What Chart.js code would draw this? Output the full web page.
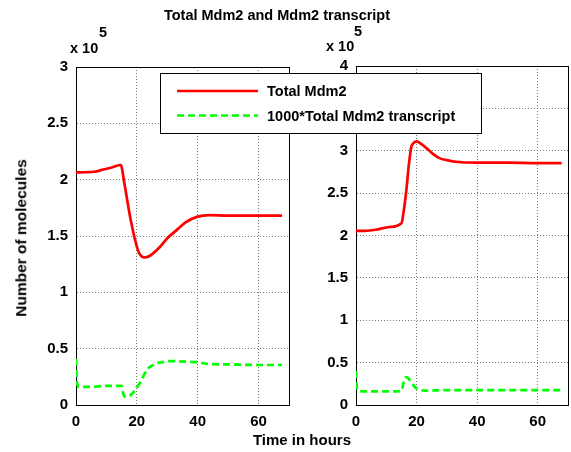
<!DOCTYPE html>
<html>
<head>
<meta charset="utf-8">
<script src="https://cdn.jsdelivr.net/npm/chart.js@4.4.1/dist/chart.umd.min.js"></script>
<style>
	body { margin: 0; background: #fff; }
	#wrap { position: relative; width: 571px; height: 452px; font-family: "Liberation Sans", Arial, sans-serif; font-weight: bold; color: #000; }
	canvas { position: absolute; left: 0; top: 0; }
	.txt { position: absolute; white-space: nowrap; font-size: 14.5px; line-height: 1; }
</style>
</head>
<body>
<div id="wrap">
	<canvas id="left" width="571" height="452"></canvas>
	<canvas id="right" width="571" height="452"></canvas>
	<div class="txt" style="left:0;width:554px;top:8px;text-align:center;">Total Mdm2 and Mdm2 transcript</div>
	<div class="txt" style="left:70px;top:41px;">x 10</div>
	<div class="txt" style="left:99px;top:25px;">5</div>
	<div class="txt" style="left:326px;top:39px;">x 10</div>
	<div class="txt" style="left:354px;top:24px;">5</div>
	<div class="txt" style="left:0;width:604px;top:432px;text-align:center;font-size:15px;">Time in hours</div>
	<div class="txt" style="left:21px;top:238px;font-size:15.5px;transform:translate(-50%,-50%) rotate(-90deg);">Number of molecules</div>
</div>
<script>
// values in units of 10^5 molecules, time in hours
var leftMdm2T = [0, 3, 6, 9, 12, 14.7, 16, 18, 20.4, 21.5, 22.6, 24, 25.5, 27.5, 30, 33, 36, 39.7, 44, 50, 60, 67.7];
var leftMdm2 = [2.065, 2.066, 2.07, 2.09, 2.11, 2.13, 1.95, 1.64, 1.37, 1.32, 1.31, 1.32, 1.35, 1.40, 1.48, 1.55, 1.62, 1.67, 1.685, 1.68, 1.68, 1.68];
var leftTrT = [0, 0.3, 1, 5, 10, 15, 15.5, 16, 17.5, 19.9, 21.5, 23.2, 25, 26.5, 28.5, 30.9, 35, 40, 43, 50, 60, 67.7];
var leftTr = [0.41, 0.2, 0.16, 0.16, 0.17, 0.17, 0.1, 0.075, 0.08, 0.15, 0.22, 0.31, 0.35, 0.37, 0.38, 0.39, 0.385, 0.38, 0.365, 0.36, 0.355, 0.355];

var rightMdm2T = [0, 3, 6.8, 11, 15, 15.8, 16.7, 17.5, 18.3, 19, 20, 21.5, 23.3, 25.5, 27.7, 30, 33, 40, 50, 60, 67.9];
var rightMdm2 = [2.055, 2.055, 2.07, 2.1, 2.145, 2.3, 2.56, 2.85, 3.05, 3.09, 3.11, 3.08, 3.03, 2.96, 2.91, 2.89, 2.87, 2.86, 2.86, 2.855, 2.855];
var rightTrT = [0, 0.3, 1, 5, 10, 15, 15.8, 16.5, 17.4, 18.4, 19.5, 20.6, 22.8, 30, 40, 50, 60, 67.9];
var rightTr = [0.40, 0.2, 0.165, 0.16, 0.16, 0.165, 0.28, 0.33, 0.31, 0.26, 0.21, 0.185, 0.17, 0.175, 0.175, 0.176, 0.176, 0.176];

var xTicks = [0, 20, 40, 60];
var leftYTicks = [0, 0.5, 1, 1.5, 2, 2.5, 3];
var rightYTicks = [0, 0.5, 1, 1.5, 2, 2.5, 3, 3.5, 4];
var seriesLabels = ['Total Mdm2', '1000*Total Mdm2 transcript'];

Chart.defaults.font.family = '"Liberation Sans", Arial, sans-serif';
Chart.defaults.font.weight = 'bold';
Chart.defaults.font.size = 15;
Chart.defaults.color = '#000';

function pts(xs, ys)
{
	return xs.map(function(x, i) { return {x: x, y: ys[i]}; });
}

function makeChart(id, tx1, y1, tx2, y2, yMax, yTicks, pad, yWidth, showLegend)
{
	var legendBox = {
		id: 'legendBox',
		afterDraw: function(chart)
		{
			if (!showLegend) return;
			var ctx = chart.ctx;
			ctx.save();
			ctx.fillStyle = '#fff';
			ctx.fillRect(160, 73, 322, 60);
			ctx.strokeStyle = '#000';
			ctx.lineWidth = 1;
			ctx.strokeRect(160.5, 73.5, 321, 60);
			ctx.font = 'bold 14.5px "Liberation Sans", Arial, sans-serif';
			ctx.textBaseline = 'middle';
			chart.data.datasets.forEach(function(ds, i)
			{
				var y = 91 + i * 24.5;
				ctx.strokeStyle = ds.borderColor;
				ctx.lineWidth = ds.borderWidth;
				ctx.setLineDash(ds.borderDash || []);
				ctx.beginPath();
				ctx.moveTo(177, y);
				ctx.lineTo(258, y);
				ctx.stroke();
				ctx.setLineDash([]);
				ctx.fillStyle = '#000';
				ctx.fillText(ds.label, 267, y + 1);
			});
			ctx.restore();
		}
	};
	return new Chart(document.getElementById(id), {
		type: 'line',
		data: {
			datasets: [
				{ label: seriesLabels[0], data: pts(tx1, y1), borderColor: '#ff0000', borderWidth: 2.7, pointRadius: 0, cubicInterpolationMode: 'monotone' },
				{ label: seriesLabels[1], data: pts(tx2, y2), borderColor: '#00ff00', borderWidth: 2.7, borderDash: [7, 4], pointRadius: 0, cubicInterpolationMode: 'monotone' }
			]
		},
		options: {
			responsive: false,
			animation: false,
			layout: { padding: pad },
			plugins: { legend: { display: false }, title: { display: false }, tooltip: { enabled: false } },
			scales: {
				x: {
					type: 'linear', min: 0, max: 70,
					afterBuildTicks: function(s) { s.ticks = xTicks.map(function(v) { return {value: v}; }); },
					afterFit: function(s) { s.height = 30; },
					grid: { color: '#777', lineWidth: 1, drawTicks: false },
					border: { color: '#000', width: 1, dash: [1, 2] },
					ticks: { padding: 8, maxRotation: 0, callback: function(v) { return String(v); } }
				},
				y: {
					min: 0, max: yMax,
					afterBuildTicks: function(s) { s.ticks = yTicks.map(function(v) { return {value: v}; }); },
					afterFit: function(s) { s.width = yWidth; },
					grid: { color: '#777', lineWidth: 1, drawTicks: false },
					border: { color: '#000', width: 1, dash: [1, 2] },
					ticks: { padding: 8, callback: function(v) { return String(v); } }
				}
			}
		},
		plugins: [legendBox, {
			id: 'frame',
			beforeDatasetsDraw: function(chart)
			{
				var a = chart.chartArea, ctx = chart.ctx;
				ctx.save();
				ctx.strokeStyle = '#000';
				ctx.lineWidth = 1;
				ctx.setLineDash([]);
				ctx.strokeRect(Math.round(a.left) + 0.5, Math.round(a.top) + 0.5, Math.round(a.right - a.left), Math.round(a.bottom - a.top));
				ctx.restore();
			}
		}]
	});
}

var leftChart = makeChart('left', leftMdm2T, leftMdm2, leftTrT, leftTr, 3, leftYTicks,
	{ left: 0, right: 282, top: 67, bottom: 17 }, 76, false);
var rightChart = makeChart('right', rightMdm2T, rightMdm2, rightTrT, rightTr, 4, rightYTicks,
	{ left: 300, right: 3, top: 66, bottom: 17 }, 56, true);
</script>
</body>
</html>
